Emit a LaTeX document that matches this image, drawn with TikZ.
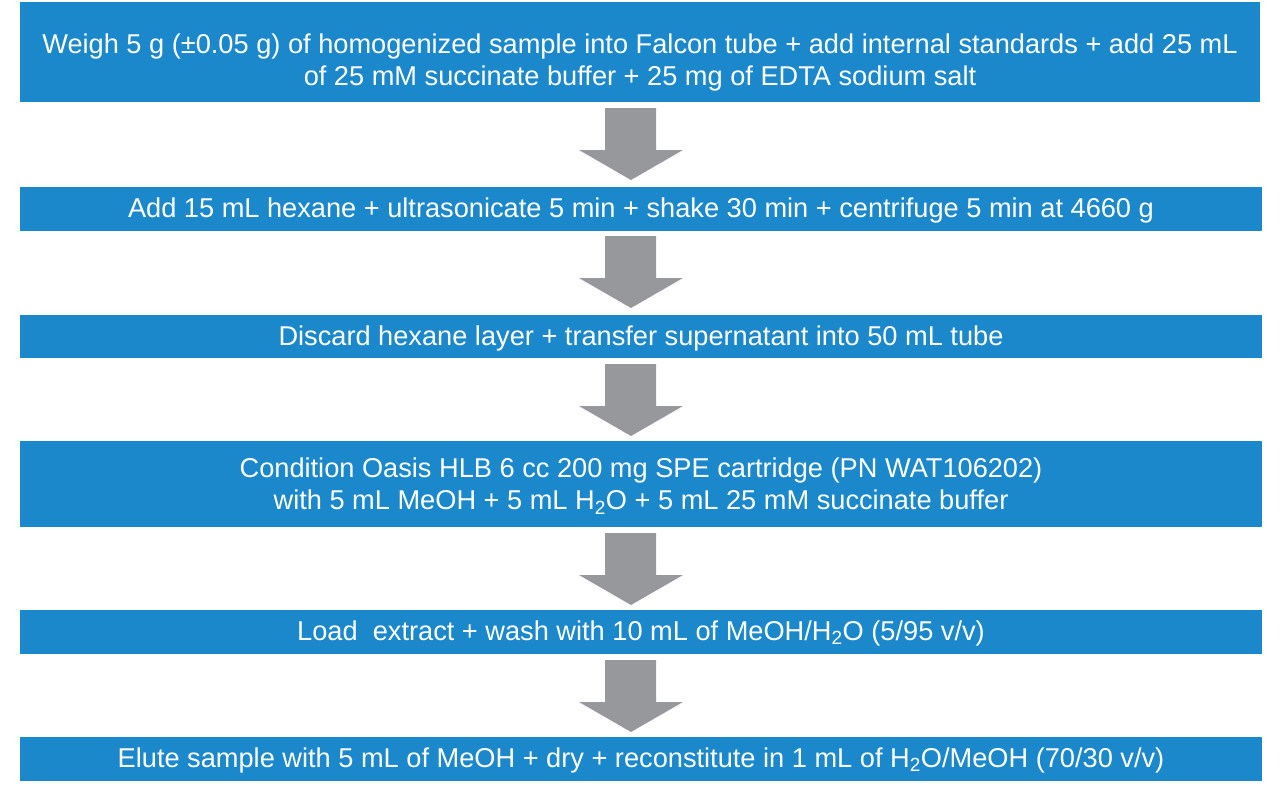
\documentclass[tikz,border=0pt]{standalone}
\usepackage{fontspec}
\setmainfont{Liberation Sans}
\definecolor{wblue}{HTML}{1B88CC}
\definecolor{wgray}{HTML}{97989C}
\begin{document}
\begin{tikzpicture}[x=1pt,y=-1pt,
  stepbox/.style={fill=wblue,text=white,inner sep=0pt,align=center,font=\fontsize{27.2}{32}\selectfont},
  garrow/.style={fill=wgray}]
\useasboundingbox (0,0) rectangle (1280,806);
\fill[wblue] (20,2) rectangle (1260,102);
\node[stepbox,anchor=center] (b1) at (640,62) {Weigh 5 g (±0.05 g) of homogenized sample into Falcon tube + add internal standards + add 25 mL\\of 25 mM succinate buffer + 25 mg of EDTA sodium salt};
\fill[wblue] (20,187) rectangle (1262,231);
\node[stepbox] (b2) at (641,210) {Add 15 mL hexane + ultrasonicate 5 min + shake 30 min + centrifuge 5 min at 4660 g};
\fill[wblue] (20,315) rectangle (1262,358);
\node[stepbox] (b3) at (641,338) {Discard hexane layer + transfer supernatant into 50 mL tube};
\fill[wblue] (20,441) rectangle (1262,527);
\node[stepbox] (b4) at (641,486) {Condition Oasis HLB 6 cc 200 mg SPE cartridge (PN WAT106202)\\with 5 mL MeOH + 5 mL H\textsubscript{2}O + 5 mL 25 mM succinate buffer};
\fill[wblue] (20,610) rectangle (1262,654);
\node[stepbox] (b5) at (641,633) {Load\ \ extract + wash with 10 mL of MeOH/H\textsubscript{2}O (5/95 v/v)};
\fill[wblue] (20,737) rectangle (1262,781);
\node[stepbox] (b6) at (641,760) {Elute sample with 5 mL of MeOH + dry + reconstitute in 1 mL of H\textsubscript{2}O/MeOH (70/30 v/v)};
\foreach \t/\n in {108/a1,236/a2,364/a3,533/a4,660/a5}{
  \fill[garrow] (605,\t) -- (656,\t) -- (656,\t+42) -- (683,\t+42) -- (631,\t+72) -- (579,\t+42) -- (605,\t+42) -- cycle;
}
\end{tikzpicture}
\end{document}
